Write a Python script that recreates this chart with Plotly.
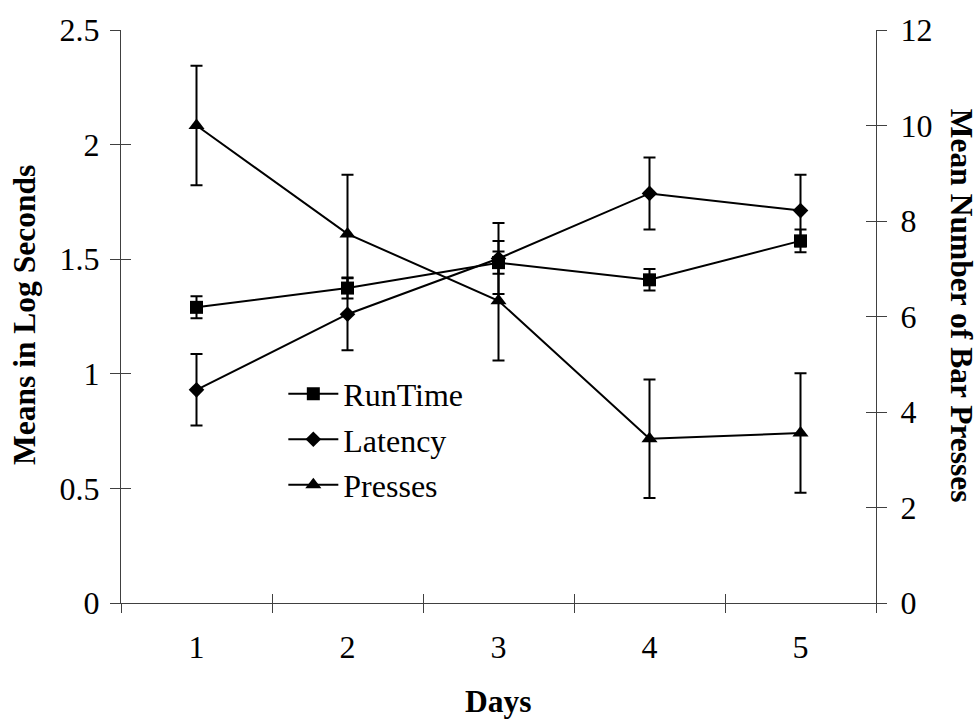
import plotly.graph_objects as go

days = [1, 2, 3, 4, 5]
day_labels = ["1", "2", "3", "4", "5"]

runtime = [1.29, 1.374, 1.485, 1.41, 1.58]
runtime_err = [0.048, 0.046, 0.049, 0.047, 0.05]

latency = [0.93, 1.26, 1.503, 1.787, 1.712]
latency_err = [0.156, 0.157, 0.155, 0.157, 0.157]

presses = [10.0, 7.73, 6.33, 3.44, 3.56]
presses_err = [1.25, 1.24, 1.25, 1.24, 1.25]

left_ticks = [0, 0.5, 1, 1.5, 2, 2.5]
left_labels = ["0", "0.5", "1", "1.5", "2", "2.5"]
right_ticks = [0, 2, 4, 6, 8, 10, 12]

boundaries = [d - 0.5 for d in days] + [days[-1] + 0.5]

FONT = "Liberation Serif"
AX = "#404040"
BLACK = "black"
TS = 32     # tick / legend font size
HS = 31.5   # title font size

fig = go.Figure()

def add_series(y, err, name, symbol, size, yaxis):
    fig.add_trace(go.Scatter(
        x=days, y=y, name=name, mode="lines+markers",
        line=dict(color=BLACK, width=2),
        marker=dict(symbol=symbol, size=size, color=BLACK),
        error_y=dict(type="data", array=err, visible=True, color=BLACK,
                     thickness=2, width=6),
        yaxis=yaxis, legendgroup=name,
    ))

add_series(runtime, runtime_err, "RunTime", "square", 13, "y")
add_series(latency, latency_err, "Latency", "diamond", 12, "y")
add_series(presses, presses_err, "Presses", "triangle-up", 14, "y2")

# empty helper traces so the tick-only overlay axes get drawn
for xa, ya in [("x2", "y"), ("x3", "y"), ("x", "y3"), ("x", "y4")]:
    fig.add_trace(go.Scatter(x=[None], y=[None], xaxis=xa, yaxis=ya, mode="markers",
                             showlegend=False, hoverinfo="skip"))

tickfont = dict(family=FONT, size=TS, color=BLACK)
titlefont = dict(family=FONT, size=HS, color=BLACK, weight="bold")

fig.update_layout(
    width=978, height=725,
    margin=dict(l=121, r=102, t=23, b=122),
    paper_bgcolor="white", plot_bgcolor="white",
    font=dict(family=FONT, size=TS, color=BLACK),
    showlegend=True,
    legend=dict(x=0.215, y=0.413, xanchor="left", yanchor="top",
                bgcolor="rgba(0,0,0,0)", font=dict(family=FONT, size=TS, color=BLACK),
                traceorder="grouped", tracegroupgap=1, itemwidth=50),
    xaxis=dict(range=[0.5, 5.5], tickmode="array", tickvals=days, ticktext=day_labels,
               ticks="", showline=True, linecolor=AX, linewidth=1, showgrid=False,
               zeroline=False, tickfont=tickfont, ticklabelstandoff=16),
    xaxis2=dict(range=[0.5, 5.5], overlaying="x", anchor="y", side="bottom",
                tickmode="array", tickvals=boundaries, ticks="outside", ticklen=9,
                tickcolor=AX, tickwidth=1, showticklabels=False, showline=False,
                showgrid=False, zeroline=False),
    xaxis3=dict(range=[0.5, 5.5], overlaying="x", anchor="y", side="bottom",
                tickmode="array", tickvals=boundaries, ticks="inside", ticklen=9,
                tickcolor=AX, tickwidth=1, showticklabels=False, showline=False,
                showgrid=False, zeroline=False),
    yaxis=dict(range=[0, 2.5], tickmode="array", tickvals=left_ticks, ticktext=left_labels,
               ticks="outside", ticklen=10, tickcolor=AX, tickwidth=1,
               showline=True, linecolor=AX, linewidth=1, showgrid=False,
               zeroline=False, tickfont=tickfont, ticklabelstandoff=4),
    yaxis3=dict(range=[0, 2.5], overlaying="y", anchor="x", side="left",
                tickmode="array", tickvals=left_ticks, ticks="inside", ticklen=10,
                tickcolor=AX, tickwidth=1, showticklabels=False, showline=False,
                showgrid=False, zeroline=False),
    yaxis2=dict(range=[0, 12], overlaying="y", anchor="x", side="right",
                tickmode="array", tickvals=right_ticks, ticks="outside", ticklen=10,
                tickcolor=AX, tickwidth=1, showline=True, linecolor=AX, linewidth=1,
                showgrid=False, zeroline=False, tickfont=tickfont, ticklabelstandoff=7),
    yaxis4=dict(range=[0, 12], overlaying="y", anchor="x", side="right",
                tickmode="array", tickvals=right_ticks, ticks="inside", ticklen=10,
                tickcolor=AX, tickwidth=1, showticklabels=False, showline=False,
                showgrid=False, zeroline=False),
    annotations=[
        dict(text="Means in Log Seconds", xref="paper", yref="paper", x=-0.127, y=0.503,
             xanchor="center", yanchor="middle", textangle=-90, showarrow=False,
             font=titlefont),
        dict(text="Mean Number of Bar Presses", xref="paper", yref="paper", x=1.113, y=0.518,
             xanchor="center", yanchor="middle", textangle=90, showarrow=False,
             font=titlefont),
        dict(text="Days", xref="paper", yref="paper", x=0.5, y=-0.172,
             xanchor="center", yanchor="middle", showarrow=False,
             font=titlefont),
    ],
)

fig.write_html("out.html")
